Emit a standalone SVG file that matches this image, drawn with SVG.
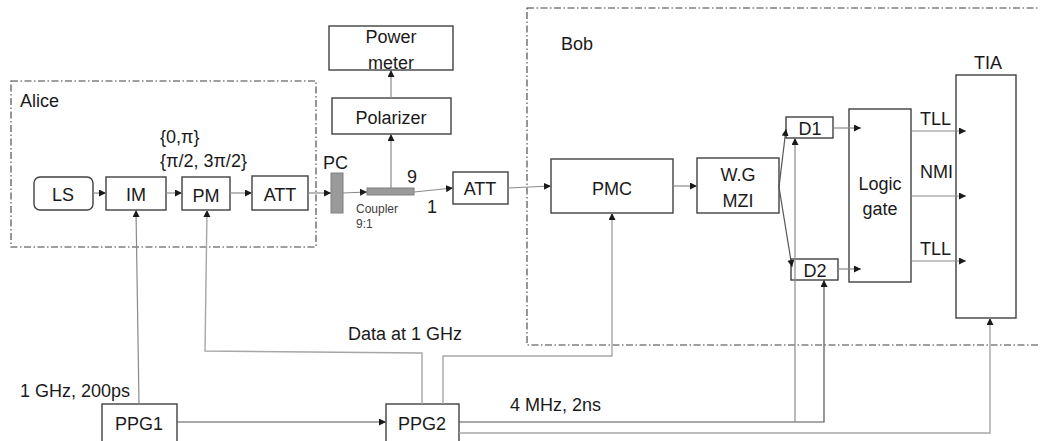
<svg xmlns="http://www.w3.org/2000/svg" width="1040" height="441" viewBox="0 0 1040 441">
<style>
  text { font-family: "Liberation Sans", Arial, sans-serif; font-size: 18px; fill: #1a1a1a; }
  .c { text-anchor: middle; }
  .small { font-size: 12px; fill: #404040; }
  .box { fill: #ffffff; stroke: #404040; stroke-width: 1.4; }
  .gray { fill: #9a9a9a; stroke: #808080; stroke-width: 1; }
  .region { fill: none; stroke: #404040; stroke-width: 1.1; stroke-dasharray: 7 2.5 1.5 2.5; }
  .ln { fill: none; stroke: #8a8a8a; stroke-width: 1.2; }
  .lnd { fill: none; stroke: #555555; stroke-width: 1.2; }
  .lnl { fill: none; stroke: #a6a6a6; stroke-width: 1.4; }
</style>
<defs>
  <marker id="arr" markerUnits="userSpaceOnUse" markerWidth="8" markerHeight="8" refX="7" refY="3.5" orient="auto">
    <path d="M0,0 L7,3.5 L0,7 z" fill="#1a1a1a"/>
  </marker>
</defs>

<g id="regions">
  <rect id="alice-region" class="region" x="11" y="81" width="305" height="166"/>
  <text x="20" y="107">Alice</text>
  <rect id="bob-region" class="region" x="527" y="8" width="600" height="337"/>
  <text x="561" y="50">Bob</text>
</g>

<g id="ls"><rect class="box" x="34" y="177" width="59" height="33" rx="6"/><text class="c" x="63" y="201">LS</text></g>
<g id="im"><rect class="box" x="106" y="177" width="60" height="33"/><text class="c" x="136" y="201">IM</text></g>
<g id="pm"><rect class="box" x="182" y="177" width="48" height="33"/><text class="c" x="206" y="202">PM</text></g>
<g id="att1"><rect class="box" x="252" y="176" width="56" height="34"/><text class="c" x="280" y="201">ATT</text></g>
<g id="phase-labels">
  <text x="160" y="143">{0,π}</text>
  <text x="160" y="167">{π/2, 3π/2}</text>
</g>
<g id="pc"><rect class="gray" x="331" y="173" width="12" height="40"/><text x="323" y="169">PC</text></g>
<g id="coupler">
  <rect class="gray" x="367" y="188" width="47" height="7"/>
  <text class="small" x="356" y="213">Coupler</text>
  <text class="small" x="356" y="228">9:1</text>
  <text x="407" y="183">9</text>
  <text x="427" y="213">1</text>
</g>
<g id="polarizer"><rect class="box" x="332" y="98" width="119" height="36"/><text class="c" x="391" y="124">Polarizer</text></g>
<g id="power-meter"><rect class="box" x="329" y="26" width="124" height="44"/><text class="c" x="391" y="43">Power</text><text class="c" x="391" y="69">meter</text></g>
<g id="att2"><rect class="box" x="453" y="172" width="55" height="32"/><text class="c" x="480" y="195">ATT</text></g>
<g id="pmc"><rect class="box" x="551" y="159" width="122" height="54"/><text class="c" x="612" y="195">PMC</text></g>
<g id="wg-mzi"><rect class="box" x="697" y="158" width="82" height="55"/><text class="c" x="738" y="181">W.G</text><text class="c" x="738" y="207">MZI</text></g>
<g id="d1"><rect class="box" x="786" y="117" width="47" height="21"/><text class="c" x="810" y="135">D1</text></g>
<g id="d2"><rect class="box" x="791" y="259" width="47" height="21"/><text class="c" x="815" y="277">D2</text></g>
<g id="logic-gate"><rect class="box" x="849" y="109" width="62" height="173"/><text class="c" x="880" y="190">Logic</text><text class="c" x="880" y="215">gate</text></g>
<g id="tia"><rect class="box" x="956" y="75" width="60" height="243"/><text class="c" x="988" y="69">TIA</text></g>
<g id="signal-labels">
  <text x="920" y="125">TLL</text>
  <text x="920" y="178">NMI</text>
  <text x="920" y="255">TLL</text>
  <text x="348" y="340">Data at 1 GHz</text>
  <text x="20" y="397">1 GHz, 200ps</text>
  <text x="510" y="411">4 MHz, 2ns</text>
</g>
<g id="ppg1"><rect class="box" x="102" y="404" width="75" height="40"/><text class="c" x="139" y="430">PPG1</text></g>
<g id="ppg2"><rect class="box" x="386" y="404" width="73" height="40"/><text class="c" x="422" y="430">PPG2</text></g>

<g id="connectors">
  <line class="ln" x1="93" y1="193" x2="106" y2="193" marker-end="url(#arr)"/>
  <line class="ln" x1="166" y1="193" x2="182" y2="193" marker-end="url(#arr)"/>
  <line class="ln" x1="230" y1="193" x2="252" y2="193" marker-end="url(#arr)"/>
  <line class="ln" x1="308" y1="193" x2="331" y2="193" marker-end="url(#arr)"/>
  <line class="ln" x1="343" y1="193" x2="367" y2="192" marker-end="url(#arr)"/>
  <line class="ln" x1="391" y1="188" x2="391" y2="134" marker-end="url(#arr)"/>
  <line class="ln" x1="391" y1="98" x2="391" y2="70" marker-end="url(#arr)"/>
  <line class="ln" x1="414" y1="192" x2="453" y2="188" marker-end="url(#arr)"/>
  <line class="ln" x1="508" y1="188" x2="551" y2="186" marker-end="url(#arr)"/>
  <line class="ln" x1="673" y1="186" x2="697" y2="186" marker-end="url(#arr)"/>
  <line class="lnd" x1="779" y1="187" x2="786" y2="129" marker-end="url(#arr)"/>
  <line class="lnd" x1="779" y1="187" x2="792" y2="267" marker-end="url(#arr)"/>
  <line class="ln" x1="833" y1="128" x2="861" y2="128" marker-end="url(#arr)"/>
  <line class="ln" x1="838" y1="269" x2="861" y2="269" marker-end="url(#arr)"/>
  <line class="ln" x1="911" y1="131" x2="966" y2="131" marker-end="url(#arr)"/>
  <line class="ln" x1="911" y1="196" x2="966" y2="196" marker-end="url(#arr)"/>
  <line class="ln" x1="911" y1="261" x2="966" y2="261" marker-end="url(#arr)"/>
  <line class="ln" x1="139" y1="404" x2="136" y2="210" marker-end="url(#arr)"/>
  <line class="lnd" x1="177" y1="422" x2="386" y2="422" marker-end="url(#arr)"/>
  <polyline class="lnl" points="422,404 422,353 205,351 207,210" marker-end="url(#arr)"/>
  <polyline class="lnl" points="443,404 443,356 612,356 612,213" marker-end="url(#arr)"/>
  <polyline class="lnd" points="459,422 824,422 824,280" marker-end="url(#arr)"/>
  <polyline class="ln" points="795,422 795,138" marker-end="url(#arr)"/>
  <polyline class="lnl" points="459,433 990,433 990,318" marker-end="url(#arr)"/>
</g>
</svg>
